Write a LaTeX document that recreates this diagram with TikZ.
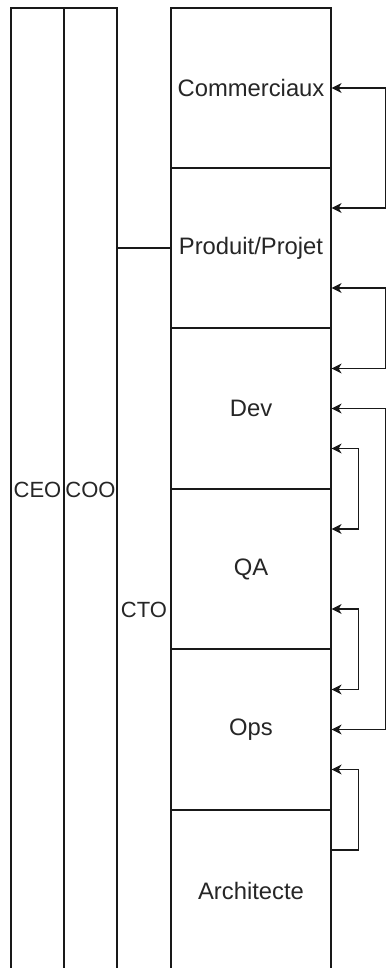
\documentclass[tikz,border=0pt]{standalone}
\usepackage{fontspec}
\setmainfont{Liberation Sans}
\usetikzlibrary{arrows.meta}
\begin{document}
\begin{tikzpicture}[x=1pt,y=-1pt,
  box/.style={draw=black!90, line width=1.2pt, inner sep=0pt, font=\fontsize{23.8}{28}\selectfont, text=black!85},
  narrowbox/.style={box, font=\fontsize{22}{26}\selectfont},
  link/.style={draw=black!90, line width=1.2pt, {Stealth[length=10pt,width=10pt,inset=3pt]}-{Stealth[length=10pt,width=10pt,inset=3pt]}},
  linkone/.style={draw=black!90, line width=1.2pt, -{Stealth[length=10pt,width=10pt,inset=3pt]}}
]
\useasboundingbox (0,0) rectangle (386,968);
\fill[white] (0,0) rectangle (386,968);
% left columns
\node[narrowbox, minimum width=53pt, minimum height=964pt] (ceo) at (37.5,490) {CEO};
\node[narrowbox, minimum width=53pt, minimum height=964pt] (coo) at (90.5,490) {COO};
\node[narrowbox, minimum width=54pt, minimum height=724pt] (cto) at (144,610) {CTO};
% right column
\node[box, minimum width=160pt, minimum height=160pt] (com) at (251,88) {Commerciaux};
\node[box, minimum width=160pt, minimum height=160pt] (prod) at (251,248) {Produit/Projet};
\node[box, minimum width=160pt, minimum height=161pt] (dev) at (251,408.5) {Dev};
\node[box, minimum width=160pt, minimum height=160pt] (qa) at (251,569) {QA};
\node[box, minimum width=160pt, minimum height=161pt] (ops) at (251,729.5) {Ops};
\node[box, minimum width=160pt, minimum height=162pt] (arch) at (251,891) {Architecte};
% connectors
\draw[link] (com.east) -- ++(54,0) |- ([yshift=40pt]prod.east);
\draw[link] ([yshift=-40pt]prod.east) -- ++(54,0) |- ([yshift=40pt]dev.east);
\draw[link] (dev.east) -- ++(54,0) |- (ops.east);
\draw[link] ([yshift=-40pt]dev.east) -- ++(27,0) |- ([yshift=40pt]qa.east);
\draw[link] ([yshift=-40pt]qa.east) -- ++(27,0) |- ([yshift=40pt]ops.east);
\draw[linkone] ([yshift=41pt]arch.east) -- ++(27,0) |- ([yshift=-40pt]ops.east);
\end{tikzpicture}
\end{document}
